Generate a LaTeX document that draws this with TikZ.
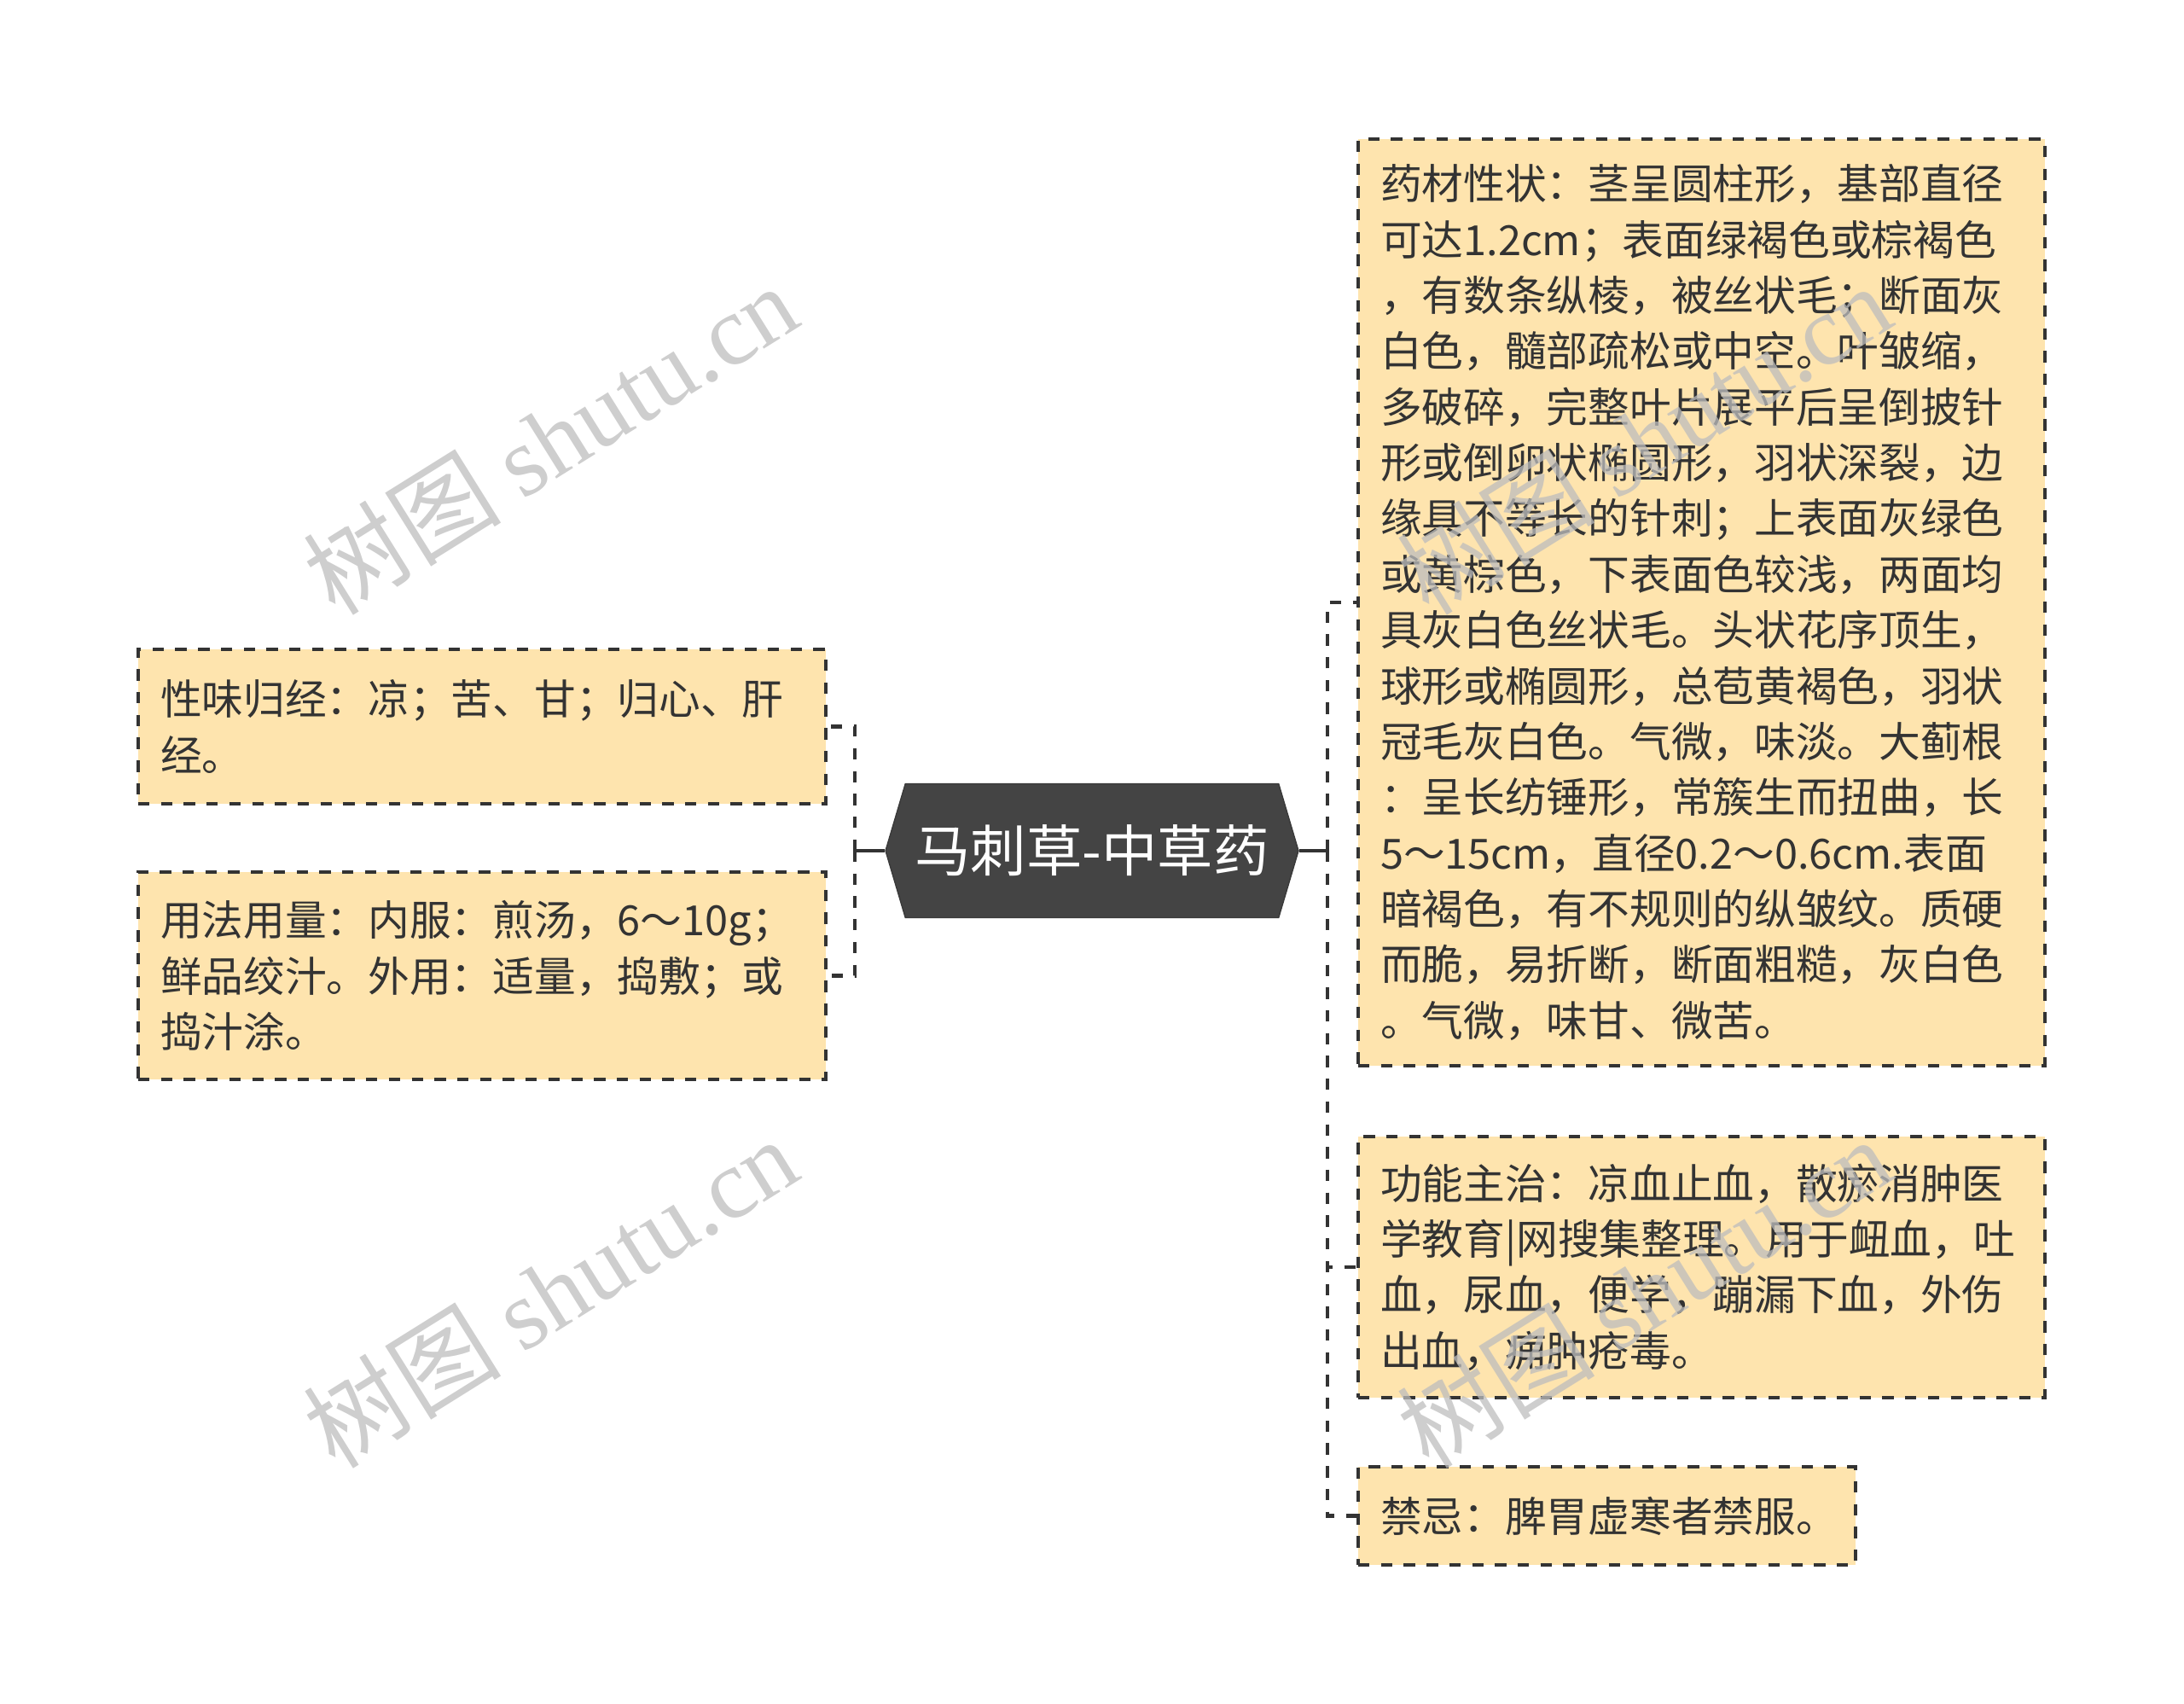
\documentclass[tikz,border=0pt]{standalone}
\usepackage{fontspec}
\setmainfont{Noto Sans CJK SC}
\newfontfamily\markfont{Liberation Serif}
\usetikzlibrary{shapes.symbols}
\definecolor{ink}{HTML}{333333}
\definecolor{rootgray}{HTML}{444444}
\definecolor{leaf}{HTML}{FEE4AE}
\definecolor{wmgray}{HTML}{BDBDBD}

\tikzset{
  leafbox/.style={draw=ink, fill=leaf, line width=1pt, dash pattern=on 3.8pt off 3.8pt,
    inner xsep=0.26cm, inner ysep=0pt, align=left, text=ink,
    font=\fontsize{13.86}{18.6}\selectfont},
  rootbox/.style={shape=signal, signal to=east and west, signal pointer angle=147,
    fill=rootgray, draw=rootgray!85!black, text=white, inner sep=0pt,
    minimum width=4.84cm, minimum height=1.57cm, font=\fontsize{18.6}{22}\selectfont},
  stub/.style={draw=ink, line width=1.4pt},
  link/.style={stub, dash pattern=on 3.8pt off 3.8pt},
  wmark/.style={rotate=32, text=wmgray, opacity=0.75, font=\fontsize{33}{33}\selectfont}
}

\begin{document}
\begin{tikzpicture}
  \useasboundingbox (0,0) rectangle (25.6,19.96);

  \node[rootbox] (root) at (12.80,9.99) {马刺草-中草药};

  \node[leafbox, text width=7.54cm, minimum height=1.81cm] (taste) at (5.65,11.445)
    {性味归经：凉；苦、甘；归心、肝\\经。};
  \node[leafbox, text width=7.54cm, minimum height=2.43cm] (usage) at (5.65,8.525)
    {用法用量：内服：煎汤，6～10g；\\鲜品绞汁。外用：适量，捣敷；或\\捣汁涂。};

  \node[leafbox, text width=7.53cm, minimum height=10.86cm] (trait) at (19.945,12.90)
    {药材性状：茎呈圆柱形，基部直径\\可达1.2cm；表面绿褐色或棕褐色\\，有数条纵棱，被丝状毛；断面灰\\白色，髓部疏松或中空。叶皱缩，\\多破碎，完整叶片展平后呈倒披针\\形或倒卵状椭圆形，羽状深裂，边\\缘具不等长的针刺；上表面灰绿色\\或黄棕色，下表面色较浅，两面均\\具灰白色丝状毛。头状花序顶生，\\球形或椭圆形，总苞黄褐色，羽状\\冠毛灰白色。气微，味淡。大蓟根\\：呈长纺锤形，常簇生而扭曲，长\\5～15cm，直径0.2～0.6cm.表面\\暗褐色，有不规则的纵皱纹。质硬\\而脆，易折断，断面粗糙，灰白色\\。气微，味甘、微苦。};
  \node[leafbox, text width=7.53cm, minimum height=3.06cm] (effect) at (19.945,5.11)
    {功能主治：凉血止血，散瘀消肿医\\学教育|网搜集整理。用于衄血，吐\\血，尿血，便学，蹦漏下血，外伤\\出血，痈肿疮毒。};
  \node[leafbox, text width=5.31cm, minimum height=1.15cm] (taboo) at (18.835,2.195)
    {禁忌：脾胃虚寒者禁服。};

  \coordinate (lhub) at (10.02,9.99);
  \coordinate (rhub) at (15.56,9.99);
  \draw[stub] (root.west) -- (lhub);
  \draw[stub] (root.east) -- (rhub);
  \foreach \n in {taste,usage}
    \draw[link] (lhub) |- (\n.east);
  \foreach \n in {trait,effect,taboo}
    \draw[link] (rhub) |- (\n.west);

  \foreach \x/\y in {6.45/14.82,6.45/4.82,19.27/14.82,19.27/4.82}
    \node[wmark] at (\x,\y) {树图 {\markfont shutu.cn}};
\end{tikzpicture}
\end{document}
